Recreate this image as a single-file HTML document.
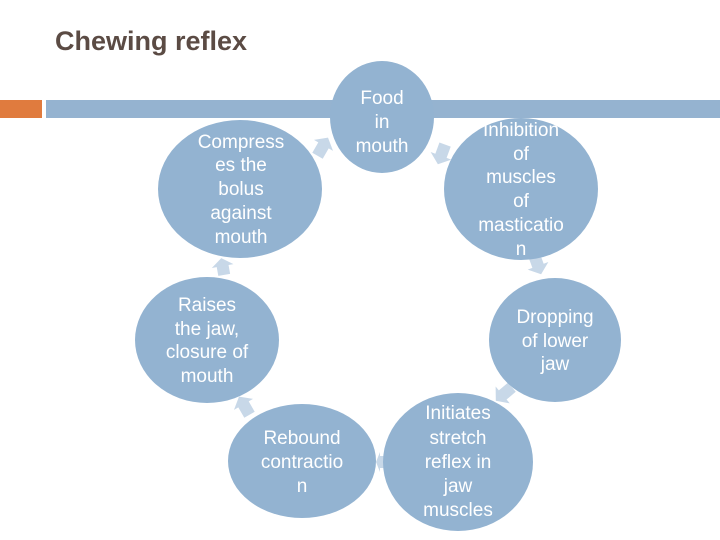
<!DOCTYPE html>
<html><head><meta charset="utf-8"><style>
html,body{margin:0;padding:0;background:#fff;}
svg{display:block;}
</style></head><body>
<svg width="720" height="540" xmlns="http://www.w3.org/2000/svg">
<text x="55" y="50" font-family="Liberation Sans, sans-serif" font-size="27" font-weight="bold" fill="#5b4b44">Chewing reflex</text>
<rect x="0" y="100" width="42" height="18" fill="#e07b3e"/>
<rect x="46" y="100" width="674" height="18" fill="#95b3d0"/>
<g fill="#c8d8e8">
<g transform="translate(322,148) rotate(-60)"><polygon points="-9,-6 3,-6 3,-11 12,0 3,11 3,6 -9,6"/></g>
<g transform="translate(442,153) rotate(110)"><polygon points="-9,-6 3,-6 3,-11 12,0 3,11 3,6 -9,6"/></g>
<g transform="translate(537,263) rotate(70)"><polygon points="-9,-6 3,-6 3,-11 12,0 3,11 3,6 -9,6"/></g>
<g transform="translate(505,393) rotate(140)"><polygon points="-9,-6 3,-6 3,-11 12,0 3,11 3,6 -9,6"/></g>
<g transform="translate(381,462) rotate(180)"><polygon points="-4,-6 1,-6 1,-10 5,0 1,10 1,6 -4,6"/></g>
<g transform="translate(245,407) rotate(-120)"><polygon points="-9,-6 3,-6 3,-11 12,0 3,11 3,6 -9,6"/></g>
<g transform="translate(223,268) rotate(-100)"><polygon points="-7,-6 2,-6 2,-11 10,0 2,11 2,6 -7,6"/></g>
</g>
<g fill="#93b3d1">
<ellipse cx="382" cy="117" rx="52" ry="56"/>
<ellipse cx="240" cy="189" rx="82" ry="69"/>
<ellipse cx="521" cy="189" rx="77" ry="71"/>
<ellipse cx="207" cy="340" rx="72" ry="63"/>
<ellipse cx="555" cy="340" rx="66" ry="62"/>
<ellipse cx="302" cy="461" rx="74" ry="57"/>
<ellipse cx="458" cy="462" rx="75" ry="69"/>
</g>
<g font-family="Liberation Sans, sans-serif" font-size="19" fill="#fff" text-anchor="middle">
<text x="382" y="104">Food</text><text x="382" y="128">in</text><text x="382" y="152">mouth</text>
<text x="241" y="148">Compress</text><text x="241" y="171">es the</text><text x="241" y="195">bolus</text><text x="241" y="219">against</text><text x="241" y="243">mouth</text>
<text x="521" y="136">Inhibition</text><text x="521" y="160">of</text><text x="521" y="183">muscles</text><text x="521" y="207">of</text><text x="521" y="231">masticatio</text><text x="521" y="255">n</text>
<text x="207" y="311">Raises</text><text x="207" y="335">the jaw,</text><text x="207" y="358">closure of</text><text x="207" y="382">mouth</text>
<text x="555" y="323">Dropping</text><text x="555" y="347">of lower</text><text x="555" y="370">jaw</text>
<text x="302" y="444">Rebound</text><text x="302" y="468">contractio</text><text x="302" y="492">n</text>
<text x="458" y="419">Initiates</text><text x="458" y="444">stretch</text><text x="458" y="468">reflex in</text><text x="458" y="492">jaw</text><text x="458" y="516">muscles</text>
</g>
</svg>
</body></html>
